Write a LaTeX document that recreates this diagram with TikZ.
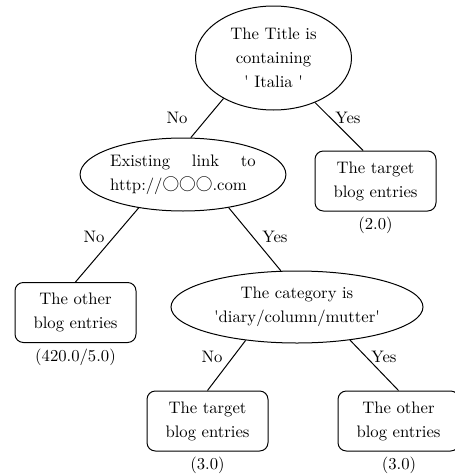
\documentclass[tikz,border=0pt]{standalone}
\usepackage{fontspec}
\newfontfamily\circfont{Noto Sans CJK JP}
\usetikzlibrary{shapes.geometric}

\tikzset{
  test/.style={draw, ellipse, line width=0.6pt, inner sep=0pt, align=center},
  leaf/.style={draw, rectangle, rounded corners=5pt, line width=0.6pt,
               minimum width=72.6pt, minimum height=36pt, inner sep=0pt, align=center},
  branch/.style={line width=0.6pt},
  answer/.style={inner sep=0pt}
}
\newcommand{\sq}{\textquotesingle}

\begin{document}
\begin{tikzpicture}[x=0.6pt, y=-0.6pt, font=\fontsize{10}{14.4}\selectfont]
\useasboundingbox (0,0) rectangle (454,475);

% Tests
\node[test, minimum width=93.6pt, minimum height=62.4pt] (title) at (273.5,58)
  {The Title is\\containing\\\sq{} Italia \sq};
\node[test, minimum width=115.2pt, minimum height=43.8pt, align=left] (link) at (183,174.5)
  {Existing\hspace{1.3em}link\hspace{1.3em}to\\http://{\circfont ○○○}.com};
\node[test, minimum width=151.2pt, minimum height=43.2pt] (cat) at (297,307)
  {The category is\\\sq diary/column/mutter\sq};

% Leaves
\node[leaf] (target1) at (375.5,181) {The target\\blog entries};
\node[leaf] (other1)  at (75.5,312.5) {The other\\blog entries};
\node[leaf] (target2) at (207.5,421) {The target\\blog entries};
\node[leaf] (other2)  at (398.5,421) {The other\\blog entries};

% Counts
\node[answer] (n1) at (375.5,225) {(2.0)};
\node[answer] (n2) at (75.5,357)  {(420.0/5.0)};
\node[answer] (n3) at (207.5,465) {(3.0)};
\node[answer] (n4) at (399,465)   {(3.0)};

% Branches
\draw[branch] (title.219) -- (link.78);
\draw[branch] (title.313) -- (target1.112);
\draw[branch] (link.217)  -- (other1.north);
\draw[branch] (link.324)  -- (cat.114);
\draw[branch] (cat.213)   -- (target2.north);
\draw[branch] (cat.328)   -- (other2.north);

% Branch labels
\node (no1)  at (177,117.5) {No};
\node (yes1) at (348,117.5) {Yes};
\node (no2)  at (94,237)    {No};
\node (yes2) at (275,237)   {Yes};
\node (no3)  at (212,357)   {No};
\node (yes3) at (384,357)   {Yes};

\end{tikzpicture}
\end{document}
